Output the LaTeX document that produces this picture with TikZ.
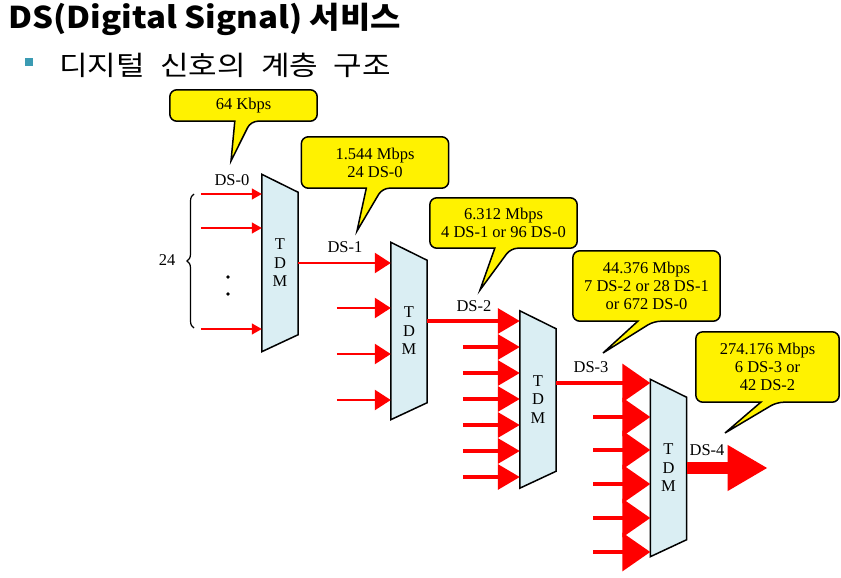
\documentclass[tikz,border=0pt]{standalone}
\usepackage{fontspec}
\setmainfont{Liberation Serif}
\newfontfamily\krtitle{Noto Sans CJK KR}[FakeStretch=1.1]
\newfontfamily\krfont{Noto Sans CJK KR}[FakeStretch=1.15, WordSpace=2.2]
\usetikzlibrary{calc}
\usetikzlibrary{arrows.meta}
\usetikzlibrary{backgrounds}
\usetikzlibrary{decorations.pathreplacing}

\definecolor{tdmblue}{RGB}{218,238,243}
\definecolor{bulletteal}{RGB}{59,155,179}

\tikzset{
  tdm/.style={minimum width=36pt, minimum height=177pt, inner sep=0pt, align=center, font=\fontsize{16.5}{18.5}\selectfont},
  tdmshape/.style={draw, fill=tdmblue, line width=1.5pt},
  rate/.style={minimum width=147pt, inner sep=0pt, align=center, font=\fontsize{16.5}{18}\selectfont},
  bubble/.style={draw, fill=yellow, line width=1.5pt},
  lbl/.style={inner sep=0pt, font=\fontsize{16.5}{18}\selectfont},
  sigA/.style={red, line width=1.3pt, -{Triangle[length=10pt, width=11pt]}},
  sigB/.style={red, line width=2.5pt, -{Triangle[length=16pt, width=20pt]}},
  sigC/.style={red, line width=3.2pt, -{Triangle[length=22pt, width=25pt]}},
  sigD/.style={red, line width=3.6pt, -{Triangle[length=28pt, width=38pt]}},
  sigE/.style={red, line width=12pt, -{Triangle[length=40pt, width=43pt]}}
}

\begin{document}
\begin{tikzpicture}[x=1pt, y=-1pt]
  \useasboundingbox (0,0) rectangle (841,578);

  % heading
  \node[anchor=base west, inner sep=0pt, font=\krtitle\bfseries\fontsize{30}{36}\selectfont]
    (title) at (8,29) {DS(Digital Signal) 서비스};
  \node[fill=bulletteal, minimum size=8pt, inner sep=0pt] (bullet) at (29,62) {};
  \node[anchor=base west, inner sep=0pt, font=\krfont\fontsize{27}{30}\selectfont]
    (subtitle) at (59,76) {디지털 신호의 계층 구조};

  % multiplexers
  \node[tdm] (tdmA) at (280,263)   {T\\D\\M};
  \node[tdm] (tdmB) at (409,331)   {T\\D\\M};
  \node[tdm] (tdmC) at (538,399.5) {T\\D\\M};
  \node[tdm] (tdmD) at (668.5,468) {T\\D\\M};

  % rates
  \node[rate, minimum height=31pt] (rateA) at (243.5,105.5) {64 Kbps};
  \node[rate, minimum height=51pt] (rateB) at (375,162.5) {1.544 Mbps\\24 DS-0};
  \node[rate, minimum height=50pt] (rateC) at (503.5,223) {6.312 Mbps\\4 DS-1 or 96 DS-0};
  \node[rate, minimum height=70pt] (rateD) at (646.5,286) {44.376 Mbps\\7 DS-2 or 28 DS-1\\or 672 DS-0};
  \node[rate, minimum height=70pt, minimum width=143pt] (rateE) at (767.5,367) {274.176 Mbps\\6 DS-3 or\\42 DS-2};

  \node[lbl] (dsA) at (232,180) {DS-0};
  \node[lbl] (dsB) at (345,247) {DS-1};
  \node[lbl] (dsC) at (474,306) {DS-2};
  \node[lbl] (dsD) at (591,367) {DS-3};
  \node[lbl] (dsE) at (707,450) {DS-4};

  \foreach \n/\x/\y in {A/231/161, B/357/231, C/480/290, D/603/353, E/725/433}
    \coordinate (tip\n) at (\x,\y);

  \begin{scope}[on background layer]
    \foreach \n in {A,B,C,D}
      \draw[tdmshape] (tdm\n.north west) -- ([yshift=-18pt]tdm\n.north east)
        -- ([yshift=17pt]tdm\n.south east) -- (tdm\n.south west) -- cycle;
    \foreach \n in {A,B,C,D,E}
      \draw[bubble] ([xshift=65pt]rate\n.south west) [rounded corners=7pt]
        -- (rate\n.south west) -- (rate\n.north west) -- (rate\n.north east)
        -- (rate\n.south east) -- ([xshift=81pt]rate\n.south west) [sharp corners]
        -- (tip\n) -- cycle;
  \end{scope}

  % 24 inputs
  \foreach \y in {194,228,329}
    \draw[sigA] ($(tdmA.west |- 0,\y)+(-61,0)$) -- (tdmA.west |- 0,\y);
  \fill (228,277) circle (1.8pt);
  \fill (228,294) circle (1.8pt);
  \draw[line width=1.2pt, decorate, decoration={brace, amplitude=7pt}] (194,328) -- (194,194);
  \node[lbl] (count) at (167,260) {24};

  \draw[sigB] (tdmA.east) -- (tdmA.east -| tdmB.west);
  \foreach \y in {308,354,400}
    \draw[sigB] ($(tdmB.west |- 0,\y)+(-54,0)$) -- (tdmB.west |- 0,\y);

  \draw[sigC] (tdmB.east |- 0,321) -- (tdmC.west |- 0,321);
  \foreach \y in {347,373,...,477}
    \draw[sigC] ($(tdmC.west |- 0,\y)+(-57,0)$) -- (tdmC.west |- 0,\y);

  \draw[sigD] (tdmC.east |- 0,383) -- (tdmD.west |- 0,383);
  \foreach \y in {417,450,484,518,552}
    \draw[sigD] ($(tdmD.west |- 0,\y)+(-57,0)$) -- (tdmD.west |- 0,\y);

  \draw[sigE] (tdmD.east) -- ++(81,0);

\end{tikzpicture}
\end{document}
